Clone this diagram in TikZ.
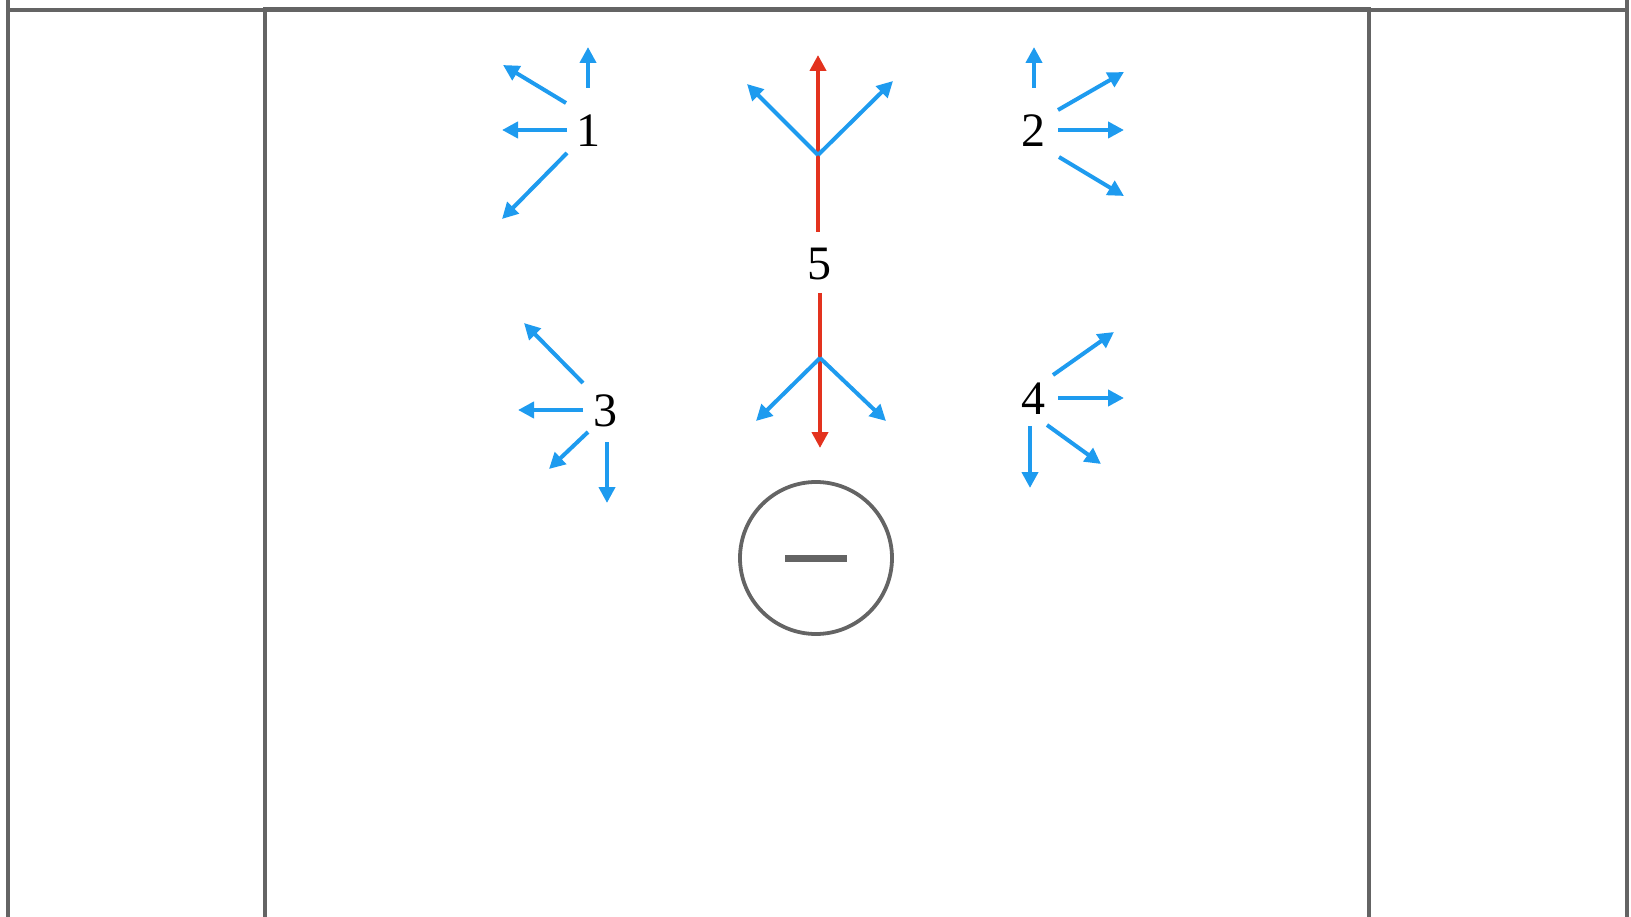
\documentclass[tikz,border=0pt]{standalone}
\usepackage{fontspec}
\setmainfont{Liberation Serif}
\usetikzlibrary{arrows.meta}
\definecolor{framegray}{HTML}{646464}
\definecolor{moveblue}{HTML}{1E9BEF}
\definecolor{movered}{HTML}{E3321E}
\tikzset{
  frameline/.style={draw=framegray, line width=3.6pt},
  bluearrow/.style={draw=moveblue, line width=4pt, -{Triangle[length=16pt,width=16pt]}},
  redarrow/.style={draw=movered, line width=4pt, -{Triangle[length=16pt,width=16pt]}},
  numlabel/.style={font=\fontsize{48}{52}\selectfont, text=black, inner sep=0pt},
}
\begin{document}
\begin{tikzpicture}[x=1pt, y=-1pt]
\useasboundingbox (0,0) rectangle (1631,917);
% frame
\draw[frameline] (8,0) -- (8,917);
\draw[frameline] (1627,0) -- (1627,917);
\draw[frameline] (8,10) -- (1627,10);
\draw[frameline] (265,917) -- (265,8.5) -- (1369,8.5) -- (1369,917);
% labels
\node[numlabel] (n1) at (588,131) {1};
\node[numlabel] (n2) at (1033,131) {2};
\node[numlabel] (n3) at (605,411) {3};
\node[numlabel] (n4) at (1033,399) {4};
\node[numlabel] (n5) at (819,264) {5};
% group 1
\coordinate (a1s) at (588,88);  \coordinate (a1e) at (588,47);
\coordinate (b1s) at (566,103); \coordinate (b1e) at (503,65);
\coordinate (c1s) at (567,130); \coordinate (c1e) at (502,130);
\coordinate (d1s) at (567,153); \coordinate (d1e) at (502,219);
\draw[bluearrow] (a1s) -- (a1e);
\draw[bluearrow] (b1s) -- (b1e);
\draw[bluearrow] (c1s) -- (c1e);
\draw[bluearrow] (d1s) -- (d1e);
% group 2
\coordinate (a2s) at (1034,88);  \coordinate (a2e) at (1034,47);
\coordinate (b2s) at (1058,110); \coordinate (b2e) at (1124,72);
\coordinate (c2s) at (1058,130); \coordinate (c2e) at (1124,130);
\coordinate (d2s) at (1059,157); \coordinate (d2e) at (1124,196);
\draw[bluearrow] (a2s) -- (a2e);
\draw[bluearrow] (b2s) -- (b2e);
\draw[bluearrow] (c2s) -- (c2e);
\draw[bluearrow] (d2s) -- (d2e);
% group 3
\coordinate (a3s) at (583,383); \coordinate (a3e) at (524,323);
\coordinate (b3s) at (583,410); \coordinate (b3e) at (518,410);
\coordinate (c3s) at (588,432); \coordinate (c3e) at (549,469);
\coordinate (d3s) at (607,442); \coordinate (d3e) at (607,503);
\draw[bluearrow] (a3s) -- (a3e);
\draw[bluearrow] (b3s) -- (b3e);
\draw[bluearrow] (c3s) -- (c3e);
\draw[bluearrow] (d3s) -- (d3e);
% group 4
\coordinate (a4s) at (1053,375); \coordinate (a4e) at (1114,332);
\coordinate (b4s) at (1058,398); \coordinate (b4e) at (1124,398);
\coordinate (c4s) at (1047,425); \coordinate (c4e) at (1101,464);
\coordinate (d4s) at (1030,426); \coordinate (d4e) at (1030,488);
\draw[bluearrow] (a4s) -- (a4e);
\draw[bluearrow] (b4s) -- (b4e);
\draw[bluearrow] (c4s) -- (c4e);
\draw[bluearrow] (d4s) -- (d4e);
% group 5
\coordinate (r1s) at (818,232); \coordinate (r1e) at (818,55);
\coordinate (f1) at (818,155);
\coordinate (u1e) at (747,84); \coordinate (u2e) at (893,81);
\coordinate (r2s) at (820,293); \coordinate (r2e) at (820,448);
\coordinate (f2) at (820,358);
\coordinate (l1e) at (756,421); \coordinate (l2e) at (886,421);
\draw[redarrow] (r1s) -- (r1e);
\draw[bluearrow] (f1) -- (u1e);
\draw[bluearrow] (f1) -- (u2e);
\draw[redarrow] (r2s) -- (r2e);
\draw[bluearrow] (f2) -- (l1e);
\draw[bluearrow] (f2) -- (l2e);
% goal circle
\node[circle, draw=framegray, line width=3.8pt, minimum size=152pt, inner sep=0pt] (goal) at (816,558) {};
\draw[draw=framegray, line width=7pt] ([xshift=-31pt]goal.center) -- ([xshift=31pt]goal.center);
\end{tikzpicture}
\end{document}
